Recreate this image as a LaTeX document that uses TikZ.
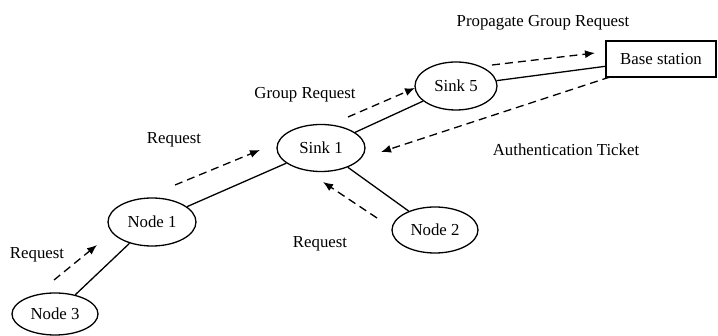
\documentclass[tikz,border=0pt]{standalone}
\usepackage{fontspec}
\setmainfont{Liberation Serif}
\usetikzlibrary{shapes.geometric,arrows.meta}
\begin{document}
\begin{tikzpicture}[x=1pt,y=-1pt,
  font=\fontsize{16.8}{20}\selectfont,
  sensor/.style={ellipse,draw,line width=1.3pt,inner sep=0pt},
  station/.style={rectangle,draw,line width=1.3pt,inner sep=0pt,minimum width=110pt,minimum height=36pt},
  link/.style={line width=1.3pt},
  msg/.style={line width=1.3pt,dash pattern=on 8pt off 5pt,-{Latex[length=10pt,width=8pt]}},
  lbl/.style={inner sep=0pt}]
\useasboundingbox (0,0) rectangle (718,336);

% network nodes
\node[sensor,minimum width=86pt,minimum height=42pt] (n3) at (55,314) {Node 3};
\node[sensor,minimum width=88pt,minimum height=48pt] (n1) at (152,222) {Node 1};
\node[sensor,minimum width=88pt,minimum height=47pt] (s1) at (321,148) {Sink 1};
\node[sensor,minimum width=86pt,minimum height=46pt] (n2) at (435,230) {Node 2};
\node[sensor,minimum width=82pt,minimum height=48pt] (s5) at (456,86) {Sink 5};
\node[station] (bs) at (661,59) {Base station};

% physical links
\draw[link] (n3) -- (n1);
\draw[link] (n1) -- (s1);
\draw[link] (s1) -- (s5);
\draw[link] (s1) -- (n2);
\draw[link] (s5) -- (bs);

% message flow endpoints
\coordinate (a1) at (54,280);  \coordinate (a2) at (97,245);
\coordinate (b1) at (175,185); \coordinate (b2) at (260,150);
\coordinate (c1) at (348,117); \coordinate (c2) at (415,88);
\coordinate (d1) at (492,65);  \coordinate (d2) at (595,53);
\coordinate (e1) at (610,77);  \coordinate (e2) at (381,152);
\coordinate (f1) at (377,218); \coordinate (f2) at (323,182);

\draw[msg] (a1) -- (a2);
\draw[msg] (b1) -- (b2);
\draw[msg] (c1) -- (c2);
\draw[msg] (d1) -- (d2);
\draw[msg] (e1) -- (e2);
\draw[msg] (f1) -- (f2);

% message labels
\node[lbl] (t1) at (37,255) {Request};
\node[lbl] (t2) at (174,140) {Request};
\node[lbl] (t3) at (305,95) {Group Request};
\node[lbl] (t4) at (543,23) {Propagate Group Request};
\node[lbl] (t5) at (566,150) {Authentication Ticket};
\node[lbl] (t6) at (320,244) {Request};
\end{tikzpicture}
\end{document}
